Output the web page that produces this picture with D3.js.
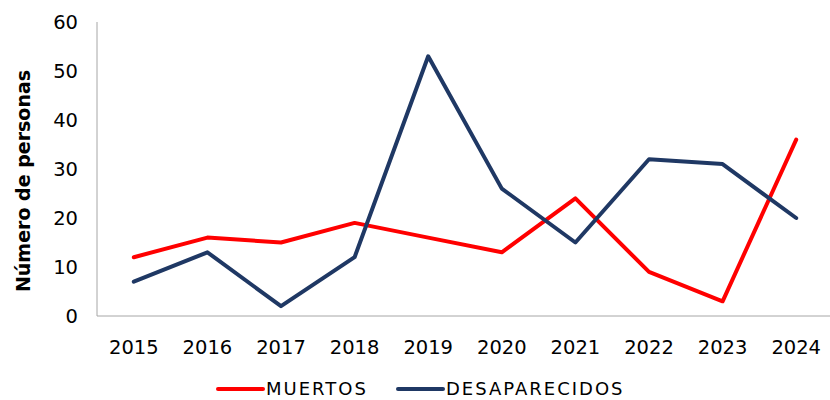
<!DOCTYPE html>
<html>
<head>
  <meta charset="utf-8">
  <script src="https://cdn.jsdelivr.net/npm/d3@7"></script>
  <style>
    body { margin: 0; background: #fff; }
    text { font-family: "DejaVu Sans", sans-serif; fill: #000; }
  </style>
</head>
<body>
  <svg id="chart" width="830" height="400"></svg>
  <script>
  var years = ['2015', '2016', '2017', '2018', '2019', '2020', '2021', '2022', '2023', '2024'];
  var muertos = [12, 16, 15, 19, 16, 13, 24, 9, 3, 36];
  var desaparecidos = [7, 13, 2, 12, 53, 26, 15, 32, 31, 20];
  var yTicks = [0, 10, 20, 30, 40, 50, 60];
  var seriesNames = ['MUERTOS', 'DESAPARECIDOS'];
  var colors = ['#ff0000', '#1f3864'];

  var svg = d3.select('#chart');
  var plotL = 97, plotR = 833, plotT = 22, plotB = 316;

  var x = d3.scalePoint().domain(years).range([plotL, plotR]).padding(0.5);
  var y = d3.scaleLinear().domain([0, 60]).range([plotB, plotT]);

  // axes lines
  svg.append('line')
    .attr('x1', plotL).attr('x2', plotL).attr('y1', plotT).attr('y2', plotB)
    .attr('stroke', '#a6a6a6').attr('stroke-width', 1);
  svg.append('line')
    .attr('x1', plotL).attr('x2', 830).attr('y1', plotB).attr('y2', plotB)
    .attr('stroke', '#a6a6a6').attr('stroke-width', 1);

  // y tick labels
  svg.append('g').selectAll('text')
    .data(yTicks)
    .join('text')
    .attr('x', 78)
    .attr('y', d => y(d))
    .attr('dy', '0.35em')
    .attr('text-anchor', 'end')
    .style('font-size', '19.5px')
    .text(d => d);

  // x tick labels
  svg.append('g').selectAll('text')
    .data(years)
    .join('text')
    .attr('x', d => x(d))
    .attr('y', 354)
    .attr('text-anchor', 'middle')
    .style('font-size', '19.5px')
    .text(d => d);

  // y title
  svg.append('text')
    .attr('transform', 'translate(30,181) rotate(-90)')
    .attr('text-anchor', 'middle')
    .style('font-size', '19px')
    .style('font-weight', 'bold')
    .text('Número de personas');

  var line = d3.line()
    .x((d, i) => x(years[i]))
    .y(d => y(d));

  [muertos, desaparecidos].forEach(function (s, i) {
    svg.append('path')
      .datum(s)
      .attr('fill', 'none')
      .attr('stroke', colors[i])
      .attr('stroke-width', 4)
      .attr('stroke-linejoin', 'round')
      .attr('stroke-linecap', 'round')
      .attr('d', line);
  });

  // legend
  var legendX = [218, 398];
  var lg = svg.append('g').selectAll('g')
    .data(seriesNames)
    .join('g')
    .attr('transform', (d, i) => `translate(${legendX[i]},389)`);
  lg.append('line')
    .attr('x1', 0).attr('x2', 45)
    .attr('stroke', (d, i) => colors[i])
    .attr('stroke-width', 4)
    .attr('stroke-linecap', 'round');
  lg.append('text')
    .attr('x', 48)
    .attr('dy', '0.35em')
    .style('font-size', '18px')
    .style('letter-spacing', '2px')
    .text(d => d);
  </script>
</body>
</html>
